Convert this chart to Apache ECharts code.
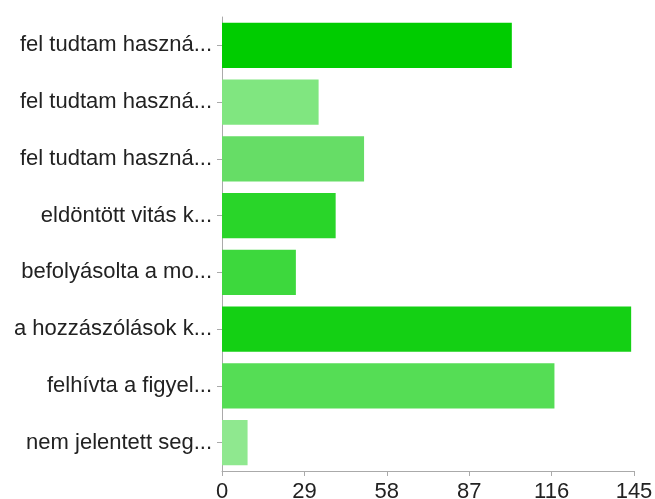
<!DOCTYPE html>
<html>
<head>
<meta charset="utf-8">
<script src="https://cdn.jsdelivr.net/npm/echarts@6/dist/echarts.min.js"></script>
<style>
  html, body { margin: 0; padding: 0; background: #fff; }
  #chart { width: 655px; height: 499px; }
</style>
</head>
<body>
<div id="chart"></div>
<script>
// kategóriák (felülről lefelé)
const categories = [
    'fel tudtam haszná...',
    'fel tudtam haszná...',
    'fel tudtam haszná...',
    'eldöntött vitás k...',
    'befolyásolta a mo...',
    'a hozzászólások k...',
    'felhívta a figyel...',
    'nem jelentett seg...'
];
const values = [102, 34, 50, 40, 26, 144, 117, 9];
const barColors = ['#00cc00', '#80e680', '#66dd66', '#29d529', '#3dd83d', '#14d014', '#55dd55', '#8fe88f'];
const tickStep = 29;
const axisMax = 145;

const chart = echarts.init(document.getElementById('chart'));
chart.setOption({
    animation: false,
    grid: { left: 222, right: 21, top: 17, bottom: 28, containLabel: false, outerBoundsMode: 'none' },
    xAxis: {
        type: 'value',
        min: 0,
        max: axisMax,
        interval: tickStep,
        axisLine: { show: true, lineStyle: { color: '#aaa', width: 1 } },
        axisTick: { show: true, length: 5, lineStyle: { color: '#aaa' } },
        splitLine: { show: false },
        axisLabel: {
            color: '#222',
            fontSize: 22,
            fontFamily: 'Liberation Sans, Arial, sans-serif',
            margin: 10
        }
    },
    yAxis: {
        type: 'category',
        data: categories,
        inverse: true,
        axisLine: { show: true, lineStyle: { color: '#aaa', width: 1 } },
        axisTick: { show: true, length: 5, alignWithLabel: true, lineStyle: { color: '#aaa' } },
        axisLabel: {
            color: '#222',
            fontSize: 22,
            fontFamily: 'Liberation Sans, Arial, sans-serif',
            margin: 10,
            interval: 0
        }
    },
    series: [{
        type: 'bar',
        data: values.map((v, i) => ({ value: v, itemStyle: { color: barColors[i] } })),
        barCategoryGap: '20%'
    }]
});
</script>
</body>
</html>
